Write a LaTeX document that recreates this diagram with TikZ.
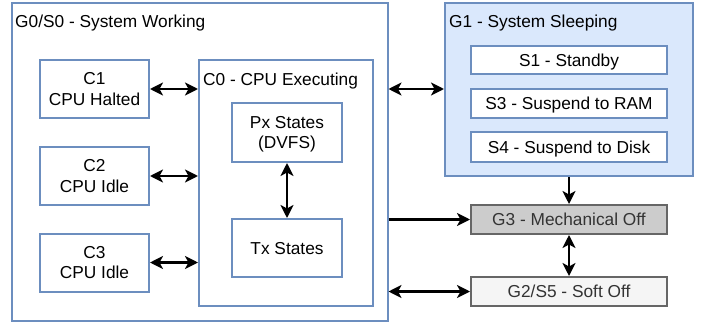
\documentclass[tikz,border=0pt]{standalone}
\usepackage{fontspec}
\setmainfont{Liberation Sans}
\usetikzlibrary{arrows.meta}
\definecolor{bluedraw}{HTML}{6C8EBF}
\definecolor{bluefill}{HTML}{DAE8FC}
\definecolor{graydraw}{HTML}{666666}
\definecolor{grayfill}{HTML}{CCCCCC}
\definecolor{lightfill}{HTML}{F5F5F5}
\definecolor{graytext}{HTML}{333333}
\tikzset{
  box/.style={draw=bluedraw, line width=2pt, fill=white, inner sep=0pt, align=center,
    text depth=0pt, font=\fontsize{17.3pt}{20.5pt}\selectfont},
  group/.style={draw=bluedraw, line width=2pt, inner sep=0pt},
  offbox/.style={draw=graydraw, line width=2pt, inner sep=0pt, text=graytext,
    text depth=0pt, font=\fontsize{17.3pt}{20.5pt}\selectfont},
  title/.style={inner sep=0pt, anchor=west, font=\fontsize{17.3pt}{20.5pt}\selectfont},
  tip/.tip={Stealth[length=13pt,width=13pt,inset=3.5pt]},
  arr/.style={line width=2.6pt, -tip},
  darr/.style={line width=2.6pt, tip-tip},
}
\begin{document}
\begin{tikzpicture}[x=1pt,y=-1pt]
\useasboundingbox (0,0) rectangle (706,326);
% G0 container
\node[group, minimum width=376pt, minimum height=318pt] (g0) at (199.5,162) {};
\node[title] (g0t) at (15,23.5) {G0/S0 - System Working};
% C0 container
\node[group, fill=white, minimum width=174pt, minimum height=246pt] (c0) at (286,183) {};
\node[title] (c0t) at (203,81.5) {C0 - CPU Executing};
% C states
\node[box, minimum width=109pt, minimum height=58pt] (c1) at (94.5,89) {C1\\CPU Halted};
\node[box, minimum width=109pt, minimum height=58pt] (c2) at (94.5,176) {C2\\CPU Idle};
\node[box, minimum width=109pt, minimum height=58pt] (c3) at (94.5,262.5) {C3\\CPU Idle};
\node[box, minimum width=110pt, minimum height=59pt] (px) at (287,132.5) {Px States\\(DVFS)};
\node[box, minimum width=110pt, minimum height=58pt] (tx) at (287,248) {Tx States};
% G1 container
\node[group, fill=bluefill, minimum width=248pt, minimum height=173pt] (g1) at (569,89.5) {};
\node[title] (g1t) at (449,23.5) {G1 - System Sleeping};
\node[box, minimum width=196pt, minimum height=28pt] (s1) at (569,60) {S1 - Standby};
\node[box, minimum width=196pt, minimum height=29pt] (s3) at (569,103.5) {S3 - Suspend to RAM};
\node[box, minimum width=196pt, minimum height=30pt] (s4) at (569,147) {S4 - Suspend to Disk};
% Off states
\node[offbox, fill=grayfill, minimum width=196pt, minimum height=29pt] (g3) at (569,219.5) {G3 - Mechanical Off};
\node[offbox, fill=lightfill, minimum width=196pt, minimum height=29pt] (g2) at (569,291.5) {G2/S5 - Soft Off};
% connectors
\draw[darr] (c1.east) -- (c1.east -| c0.west);
\draw[darr] (c2.east) -- (c2.east -| c0.west);
\draw[darr] (c3.east) -- (c3.east -| c0.west);
\draw[darr] (px.south) -- (tx.north);
\draw[darr] (g0.east |- c1.east) -- (g1.west |- c1.east);
\draw[arr] (g0.east |- g3.west) -- (g3.west);
\draw[darr] (g0.east |- g2.west) -- (g2.west);
\draw[arr] (g1.south) -- (g3.north);
\draw[darr] (g3.south) -- (g2.north);
\end{tikzpicture}
\end{document}
